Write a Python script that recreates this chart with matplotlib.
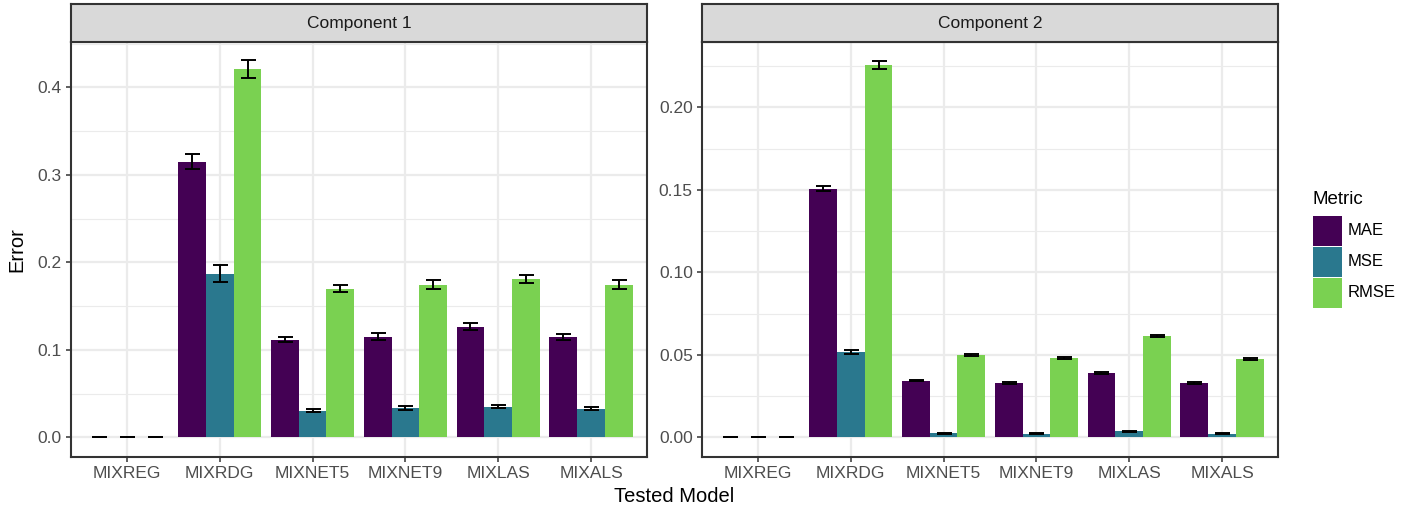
import matplotlib
import matplotlib.pyplot as plt
import numpy as np
from matplotlib.patches import Rectangle
from matplotlib.ticker import MultipleLocator

matplotlib.use("Agg")
plt.rcParams["font.family"] = ["Liberation Sans", "DejaVu Sans"]

models = ["MIXREG", "MIXRDG", "MIXNET5", "MIXNET9", "MIXLAS", "MIXALS"]
metrics = ["MAE", "MSE", "RMSE"]
colors = ["#440154", "#2A788E", "#7AD151"]
panels = ["Component 1", "Component 2"]

# component 1
c1_mae = [0.0, 0.315, 0.1115, 0.115, 0.1265, 0.115]
c1_mse = [0.0, 0.187, 0.0305, 0.0338, 0.035, 0.0328]
c1_rmse = [0.0, 0.4213, 0.170, 0.1745, 0.1812, 0.1745]
c1_mae_err = [0.0, 0.0088, 0.003, 0.0038, 0.0036, 0.0036]
c1_mse_err = [0.0, 0.0099, 0.002, 0.0025, 0.002, 0.002]
c1_rmse_err = [0.0, 0.0103, 0.0044, 0.0055, 0.0048, 0.005]

# component 2
c2_mae = [0.0, 0.1506, 0.0343, 0.0329, 0.039, 0.0329]
c2_mse = [0.0, 0.0519, 0.0026, 0.0022, 0.0038, 0.0022]
c2_rmse = [0.0, 0.2254, 0.050, 0.048, 0.0614, 0.0476]
c2_mae_err = [0.0, 0.0015, 0.0004, 0.0004, 0.0004, 0.0004]
c2_mse_err = [0.0, 0.0012, 0.0003, 0.0003, 0.0003, 0.0003]
c2_rmse_err = [0.0, 0.0024, 0.0005, 0.0005, 0.0005, 0.0005]

panel_data = [
    ([c1_mae, c1_mse, c1_rmse], [c1_mae_err, c1_mse_err, c1_rmse_err]),
    ([c2_mae, c2_mse, c2_rmse], [c2_mae_err, c2_mse_err, c2_rmse_err]),
]

W, H = 1416, 514
fig = plt.figure(figsize=(W / 100, H / 100), dpi=100)

panel_px = [(71, 647), (702, 1278)]
top_px, bottom_px, strip_top_px = 42.3, 456.7, 4.0
ylims = [(-0.0222, 0.4514), (-0.01176, 0.2394)]
major = [0.1, 0.05]

x = np.arange(1, len(models) + 1)
bw = 0.3

for i, (title, (vals, errs)) in enumerate(zip(panels, panel_data)):
    x0, x1 = panel_px[i]
    ax = fig.add_axes([x0 / W, 1 - bottom_px / H, (x1 - x0) / W, (bottom_px - top_px) / H])
    for j, (v, e) in enumerate(zip(vals, errs)):
        xs = x + (j - 1) * bw
        ax.bar(xs, v, width=bw, color=colors[j], zorder=2)
        ax.errorbar(xs, v, yerr=e, fmt="none", ecolor="black", elinewidth=1.4,
                    capsize=5.4, capthick=1.4, zorder=3)
    ax.set_xlim(0.4, 6.6)
    ax.set_ylim(*ylims[i])
    ax.set_xticks(x)
    ax.set_xticklabels(models)
    ax.yaxis.set_major_locator(MultipleLocator(major[i]))
    ax.yaxis.set_minor_locator(MultipleLocator(major[i] / 2))
    if i == 0:
        ax.yaxis.set_major_formatter(matplotlib.ticker.FormatStrFormatter("%.1f"))
    else:
        ax.yaxis.set_major_formatter(matplotlib.ticker.FormatStrFormatter("%.2f"))
    ax.grid(which="major", color="#EBEBEB", linewidth=1.6, zorder=0)
    ax.grid(which="minor", axis="y", color="#EBEBEB", linewidth=0.8, zorder=0)
    ax.set_axisbelow(True)
    for s in ax.spines.values():
        s.set_color("#333333")
        s.set_linewidth(1.5)
    ax.tick_params(which="major", length=3.6, width=1.1, color="#333333",
                   labelsize=12.5, labelcolor="#4D4D4D", pad=3)
    ax.tick_params(which="minor", length=0)
    if i == 0:
        ax.set_ylabel("Error", fontsize=14.5, color="black", labelpad=8)

    sax = fig.add_axes([x0 / W, 1 - top_px / H, (x1 - x0) / W, (top_px - strip_top_px) / H])
    sax.set_facecolor("#D9D9D9")
    sax.set_xticks([])
    sax.set_yticks([])
    for s in sax.spines.values():
        s.set_color("#333333")
        s.set_linewidth(1.5)
    sax.text(0.5, 0.5, title, ha="center", va="center", fontsize=12.5, color="#1A1A1A",
             transform=sax.transAxes)

fig.text(674.5 / W, 1 - 497 / H, "Tested Model", ha="center", va="center", fontsize=14.5)

# legend
fig.text(1312 / W, 1 - 199 / H, "Metric", ha="left", va="center", fontsize=13.5)
key_h = 29.5
for k, (m, c) in enumerate(zip(metrics, colors)):
    ky = 216 + k * (key_h + 1.5)
    fig.patches.append(Rectangle((1313 / W, 1 - (ky + key_h) / H), 29 / W, key_h / H,
                                 transform=fig.transFigure, facecolor=c, edgecolor="none"))
    fig.text(1348 / W, 1 - (ky + key_h / 2) / H, m, ha="left", va="center", fontsize=12)

fig.savefig("out.png", dpi=100)
